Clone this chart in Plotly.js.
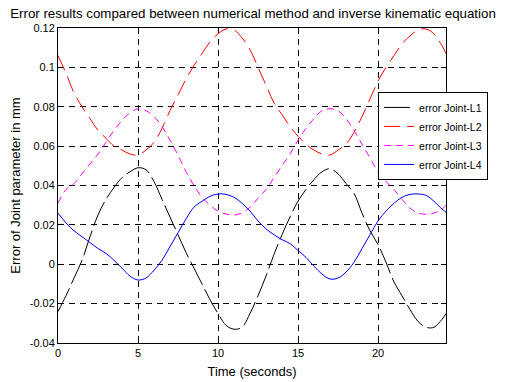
<!DOCTYPE html>
<html>
<head>
<meta charset="utf-8">
<script src="https://cdn.plot.ly/plotly-3.0.1.min.js"></script>
<style>html,body{margin:0;padding:0;background:#fff}#chart{width:506px;height:382px}</style>
</head>
<body>
<div id="chart"></div>
<script>
const time = [0,0.5,1,1.5,2,2.5,3,3.5,4,4.5,5,5.5,6,6.5,7,7.5,8,8.5,9,9.5,10,10.5,11,11.5,12,12.5,13,13.5,14,14.5,15,15.5,16,16.5,17,17.5,18,18.5,19,19.5,20,20.5,21,21.5,22,22.5,23,23.5,24,24.25];

const errL1 = [-0.024,-0.016,-0.007,0.002,0.014,0.025,0.033,0.039,0.044,0.047,0.049,0.048,0.042,0.033,0.024,0.015,0.006,-0.002,-0.010,-0.018,-0.025,-0.031,-0.033,-0.032,-0.025,-0.016,-0.006,0.005,0.015,0.024,0.032,0.038,0.043,0.047,0.0485,0.046,0.041,0.036,0.026,0.017,0.010,0.001,-0.009,-0.016,-0.023,-0.029,-0.032,-0.032,-0.028,-0.025];

const errL2 = [0.106,0.097,0.087,0.080,0.074,0.068,0.064,0.060,0.058,0.056,0.0555,0.058,0.062,0.069,0.078,0.086,0.094,0.101,0.107,0.113,0.117,0.1195,0.119,0.115,0.109,0.100,0.091,0.082,0.076,0.070,0.065,0.061,0.058,0.056,0.0555,0.058,0.061,0.067,0.075,0.084,0.093,0.100,0.106,0.112,0.116,0.119,0.1195,0.117,0.111,0.107];

const errL3 = [0.031,0.038,0.041,0.046,0.051,0.056,0.062,0.068,0.073,0.077,0.079,0.078,0.075,0.070,0.063,0.0555,0.047,0.040,0.034,0.030,0.027,0.0255,0.025,0.026,0.029,0.0335,0.038,0.044,0.050,0.056,0.063,0.069,0.074,0.078,0.079,0.078,0.074,0.068,0.061,0.054,0.047,0.042,0.038,0.033,0.0285,0.026,0.0254,0.026,0.028,0.030];

const errL4 = [0.026,0.021,0.017,0.014,0.011,0.008,0.0055,0.002,-0.002,-0.006,-0.008,-0.007,-0.003,0.002,0.009,0.016,0.023,0.029,0.032,0.0345,0.0357,0.0355,0.034,0.031,0.027,0.022,0.018,0.015,0.0125,0.0105,0.007,0.0035,-0.001,-0.005,-0.0075,-0.007,-0.004,0.001,0.008,0.015,0.022,0.027,0.031,0.034,0.0355,0.0357,0.035,0.032,0.028,0.0265];

const seriesNames = ['error Joint-L1','error Joint-L2','error Joint-L3','error Joint-L4'];
const xTicks = [0,5,10,15,20];
const xTickText = ['0','5','10','15','20'];
const yTicks = [-0.04,-0.02,0,0.02,0.04,0.06,0.08,0.1,0.12];
const yTickText = ['-0.04','-0.02','0','0.02','0.04','0.06','0.08','0.1','0.12'];

const FONT = 'Liberation Sans, Arial, sans-serif';
const styles = [
  {color:'#000000', dash:'26px,5px'},
  {color:'#ff0000', dash:'16px,7px'},
  {color:'#ff00ff', dash:'7px,5px'},
  {color:'#0000ff', dash:'solid'}
];
const ys = [errL1, errL2, errL3, errL4];
const traces = ys.map((y,i)=>({
  x: time, y: y, type:'scatter', mode:'lines', name: seriesNames[i],
  line:{color:styles[i].color, dash:styles[i].dash, width:1, shape:'spline', smoothing:1}
}));

const layout = {
  width:506, height:382,
  margin:{l:58, r:60, t:28, b:39},
  paper_bgcolor:'#ffffff', plot_bgcolor:'#ffffff',
  font:{family:FONT, size:11, color:'#000'},
  title:{text:'Error results compared between numerical method and inverse kinematic equation',
    font:{family:FONT, size:13.3, color:'#000'}, x:0.5, xref:'container', y:1-13/382, yref:'container', yanchor:'middle', xanchor:'center'},
  xaxis:{range:[0,24.25], tickvals:xTicks, ticktext:xTickText, ticks:'inside', ticklen:5, tickcolor:'#000',
    showline:true, linecolor:'#000', linewidth:1, mirror:'ticks', showgrid:true, gridcolor:'#000', gridwidth:1, griddash:'6px,5px',
    zeroline:false, tickfont:{size:11}, title:{text:'Time (seconds)', font:{size:13}, standoff:8}},
  yaxis:{range:[-0.04,0.12], tickvals:yTicks, ticktext:yTickText, ticks:'inside', ticklen:5, tickcolor:'#000',
    showline:true, linecolor:'#000', linewidth:1, mirror:'ticks', showgrid:true, gridcolor:'#000', gridwidth:1, griddash:'6px,5px',
    zeroline:false, tickfont:{size:11}, title:{text:'Error of Joint parameter in mm', font:{size:13}, standoff:6}},
  showlegend:true,
  legend:{x:0.825, y:0.797, xanchor:'left', yanchor:'top', bgcolor:'#ffffff', bordercolor:'#000', borderwidth:1,
    font:{size:10.5}, tracegroupgap:0}
};
Plotly.newPlot('chart', traces, layout, {staticPlot:true, displayModeBar:false});
</script>
</body>
</html>
